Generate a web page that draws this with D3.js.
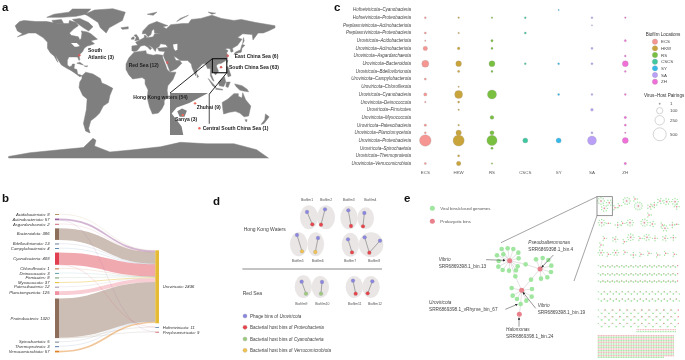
<!DOCTYPE html>
<html>
<head>
<meta charset="utf-8">
<script src="https://cdn.jsdelivr.net/npm/d3@7"></script>
<style>
  html, body { margin: 0; padding: 0; background: #fff; }
  svg { display: block; filter: blur(0.3px); }
  text { font-family: "Liberation Sans", Arial, sans-serif; }
</style>
</head>
<body>
<svg width="685" height="360"></svg>
<script>
// ---- panel a: land as rough lon/lat outlines
const landAreas = [
  // north america
  [[-168,67],[-162,71],[-156,72],[-140,71],[-125,71],[-110,69],[-95,69],[-94,72],[-85,70],[-82,67],[-88,64],[-94,60],[-92,57],[-82,55],[-80,51],[-78,53],[-77,60],[-78,62],[-70,61],[-65,59],[-60,55],[-56,52],[-65,50],[-60,46],[-66,44],[-70,43],[-74,40],[-76,36],[-81,31],[-80,26],[-81,25],[-83,29],[-90,29],[-95,29],[-97,25],[-97,20],[-94,18],[-91,19],[-90,21],[-87,21],[-88,16],[-84,15],[-83,10],[-79,9],[-77,8],[-80,7],[-85,10],[-92,14],[-97,16],[-105,20],[-109,25],[-113,31],[-110,23],[-115,30],[-120,34],[-124,40],[-124,48],[-130,54],[-140,60],[-150,60],[-155,58],[-165,55],[-158,59],[-165,62]],
  [[-90,73],[-80,74],[-68,70],[-62,66],[-68,62],[-75,65],[-85,70]],
  [[-125,75],[-115,78],[-95,80],[-90,83],[-65,83],[-72,78],[-85,76],[-105,75]],
  [[-118,72],[-105,73],[-102,69],[-115,69]],
  // greenland, iceland
  [[-73,78],[-60,82],[-35,83.5],[-18,80],[-22,72],[-40,65],[-44,60],[-52,65],[-55,70],[-68,76]],
  [[-24,65],[-14,66],[-14,64],[-22,63.5]],
  // south america
  [[-77,8],[-72,12],[-62,10],[-52,5],[-50,0],[-44,-2],[-35,-6],[-39,-14],[-41,-22],[-48,-26],[-53,-34],[-58,-38],[-65,-42],[-68,-50],[-66,-55],[-72,-53],[-75,-45],[-71,-30],[-70,-18],[-76,-14],[-81,-5],[-80,1],[-77,5]],
  // africa, madagascar
  [[-17,15],[-17,21],[-13,28],[-6,35],[10,37],[11,33],[20,31],[25,32],[33,31],[33,28],[37,20],[39,15],[43,12],[51,12],[47,4],[40,-3],[39,-8],[40,-15],[35,-20],[35,-24],[32,-29],[27,-34],[19,-35],[15,-27],[12,-17],[13,-8],[9,-1],[9,4],[5,6],[-4,5],[-8,4.5],[-13,9]],
  [[44,-16],[49,-12],[50,-16],[47,-25],[44,-25]],
  // eurasia
  [[-9,37],[-9,43],[-1,44],[-4,48],[2,51],[8,54],[8,57],[11,56],[10,54],[14,54],[20,55],[22,59],[30,60],[22,60],[21,64],[24,66],[18,62],[17,58],[13,55],[10,59],[5,59],[6,62],[14,68],[25,71],[40,67],[33,66],[38,64],[44,68],[60,69],[68,69],[72,73],[85,74],[100,77],[113,74],[130,72],[140,73],[160,70],[186,67],[186,65],[177,62],[170,60],[163,60],[156,51],[155,58],[142,59],[135,54],[141,52],[135,44],[128,40],[129,36],[126,35],[125,39],[122,40],[118,39],[122,37],[120,34],[122,30],[119,25],[113,22],[108,21],[106,19],[109,13],[105,9],[101,13],[99,10],[103,2],[101,3],[98,8],[98,16],[94,16],[91,22],[87,21],[80,15],[78,8],[73,17],[72,21],[67,25],[57,25],[52,28],[48,30],[51,25],[56,25],[59,22],[52,16],[43,12.5],[39,21],[35,28],[34,31],[36,36],[28,36.5],[26,40],[40,41.5],[37,45],[30,46],[28,42],[24,40],[23,36],[19,41],[13,45],[18,40],[16,38],[12,42],[8,44],[3,43],[0,39],[-2,37],[-6,36]],
  // islands
  [[-5,50],[1,51],[0,54],[-3,58],[-6,57],[-3,54]],
  [[-10,52],[-6,52],[-6,55],[-9,54]],
  [[130,32],[135,34],[140,35],[141,40],[145,44],[141,45],[139,38],[132,35]],
  [[142,46],[143,54],[144,50]],
  [[120,22],[122,25],[121,25]],
  [[120,18],[122,18],[126,8],[122,7],[120,14]],
  [[95,5],[104,-3],[106,-6],[101,-3]],
  [[105,-7],[115,-8],[114,-7],[106,-6]],
  [[109,1],[117,7],[119,1],[116,-4],[110,-3]],
  [[120,1],[125,1],[122,-5],[119,-4]],
  [[131,-1],[141,-3],[148,-7],[150,-10],[143,-9],[138,-8],[133,-4]],
  [[114,-22],[122,-18],[130,-12],[136,-12],[136,-15],[141,-17],[142,-11],[146,-19],[153,-26],[150,-37],[144,-38],[138,-34],[132,-32],[124,-33],[116,-35],[115,-30]],
  [[145,-41],[148,-41],[147,-43.5]],
  [[173,-35],[178,-38],[175,-41],[171,-45],[167,-46],[172,-41]],
  [[80,9.5],[82,7],[80,6]],
  [[-84,22],[-75,20],[-80,23]],
  [[-74,19],[-69,19],[-71,18]],
  [[12,78],[25,80],[20,77]],
  [[52,71],[68,77],[57,74]],
  [[95,80],[105,79],[100,78]],
  // antarctica
  [[-177,-90],[-177,-88],[-148,-83],[-107,-79],[-75,-76],[-62,-63],[-58,-66],[-60,-74],[-39,-82],[-7,-79],[30,-75],[57,-69],[93,-71],[130,-71],[161,-79],[177,-90]]
];
const lakeAreas = [
  [[47,45],[53,46],[53,38],[50,37],[48,40]],
  [[-92,47],[-84,47],[-80,43],[-84,42],[-87,42]]
];
// inset of the south china coast
const insetLand = [
  [[105,25],[120.8,25],[113,21.4],[107.8,19.8],[105.7,17.7],[109.8,13],[110.5,10],[105,10]],
  [[108,18.5],[110,19.5],[112,18.7],[111,16.5],[109,16.5]]
];
const siteNames = ["South Atlantic", "Red Sea", "East China Sea", "South China Sea"];
const siteLons = [-80.6, 39.3, 121.5, 112.5];
const siteLats = [31, 22.7, 30.3, 17.6];
const insetLons = [115.4, 110.3, 117.2];
const insetLats = [21.3, 17.1, 12.4];
const boxLons = [100.7, 120.3];
const boxLats = [27, 11.4];

// ---- panel b
const phylaNames = ["Acidobacteriota","Actinobacteriota","Asgardarchaeota","Bacteroidota","Bdellovibrionota","Campylobacterota","Cyanobacteria","Chloroflexota","Deinococcota","Firmicutes","Myxococcota","Patescibacteria","Planctomycetota","Proteobacteria","Spirochaetota","Thermoproteota","Verrucomicrobiota"];
const phylaCounts = [8,57,2,386,13,4,408,1,3,8,37,12,125,1320,5,3,57];
const phylaColors = ["#b8905a","#9c5c9c","#d06a7a","#8d6e5a","#6a7f9f","#5f88b0","#e04050","#c0703a","#5f9fa8","#6a9a6a","#e8c040","#9f8f9f","#f090a0","#8d6e5a","#707f8f","#5878a8","#e08020"];
const viralNames = ["Uroviricota","Hofneiviricota","Preplasmiviricota"];
const viralCounts = [2436,11,9];
const viralColors = ["#e5bb35","#7a95b5","#d07070"];
// flows that do not go to Uroviricota
const otherFlowFrom = ["Cyanobacteria","Proteobacteria","Actinobacteriota","Proteobacteria"];
const otherFlowTo = ["Hofneiviricota","Hofneiviricota","Preplasmiviricota","Preplasmiviricota"];
const otherFlowValue = [1,10,2,7];

// ---- panel c
const pairLabels = ["Hofneiviricota","Hofneiviricota","Preplasmiviricota","Preplasmiviricota"].concat(d3.range(17).map(() => "Uroviricota"));
const pairHosts = ["Cyanobacteria","Proteobacteria","Actinobacteriota","Proteobacteria","Acidobacteriota","Actinobacteriota","Asgardarchaeota","Bacteroidota","Bdellovibrionota","Campylobacterota","Chloroflexota","Cyanobacteria","Deinococcota","Firmicutes","Myxococcota","Patescibacteria","Planctomycetota","Proteobacteria","Spirochaetota","Thermoproteota","Verrucomicrobiota"];
const locations = ["ECS","HKW","RS","CSCS","SY","SA","ZH"];
const locationColors = ["#f59692","#c9a43a","#79c040","#3fc7a0","#35b9ea","#b9a0f6","#f06fd8"];
const ecsPairs  = [0,4,0,6,1,45,0,130,0,6,0,20,2,0,0,8,5,390,0,0,6];
const hkwPairs  = [0,2,0,2,0,10,0,80,7,0,1,170,5,2,0,2,70,360,0,6,45];
const rsPairs   = [0,2,0,0,8,6,0,90,5,0,0,230,0,0,30,0,40,300,8,0,2];
const cscsPairs = [0,4,0,6,0,0,0,4,0,0,0,0,0,0,0,0,0,60,0,0,0];
const syPairs   = [1,0,0,0,0,0,0,4,0,0,0,5,0,0,0,0,0,60,0,0,0];
const saPairs   = [0,4,1,0,0,5,0,6,0,0,0,4,0,12,0,0,6,220,0,0,0];
const zhPairs   = [0,2,0,0,6,0,4,90,4,0,0,4,0,0,8,6,2,90,0,0,8];
const pairSizes = [1,100,250,500];

// ---- panel d, positions in the panel's own layout units
const biofilmNames = ["Biofilm1","Biofilm2","Biofilm3","Biofilm4","Biofilm5","Biofilm6","Biofilm7","Biofilm8","Biofilm9","Biofilm10","Biofilm11","Biofilm12"];
const biofilmLabelX = [231,288,356,421,203,263,360,432,214,277,374,435];
const biofilmLabelY = [75,75,75,75,258,258,258,258,388,388,388,388];
const blobX = [237,288,357,407,206,257,361,423,220,271,373,423];
const blobY = [127,127,128,130,208,208,209,209,335,336,336,336];
const blobRx = [27,27,26,25,26,25,26,37,26,26,26,26];
const blobRy = [36,36,35,33,36,36,36,37,34,33,33,33];
const hostX = [247,273,363,399,216,256,366,418,228,273,377,413];
const hostY = [148,149,153,154,229,231,232,233,356,356,356,355];
const hostKind = [1,1,1,1,3,3,1,1,2,2,1,1];
const phageX = [231,285,355,403,201,264,354,404,215,276,369,427];
const phageY = [111,103,106,114,180,189,193,187,320,321,317,319];
const extraPhage = [450,197,7]; // biofilm 8 has a second phage
const binLegend = ["Phage bins of ","Bacterial host bins of ","Bacterial host bins of ","Bacterial host bins of "];
const binLegendTaxon = ["Uroviricota","Proteobacteria","Cyanobacteria","Verrucomicrobiota"];
const binColors = ["#8a85e0","#e8434a","#9cc97e","#f2c14e"];

// ---- panel e
const hubX = [329,420,365,358];
const hubY = [257,282,346,418];
const bridgeX = [377,346,393,362];
const bridgeY = [268,304,314,387];
const bridgeFrom = [0,0,1,2];
const bridgeTo = [1,2,2,3];
const petalHub = [0,0,0,0,0,0,0,0,0,0,0,0,0,1,1,1,1,1,1,1,2,2,2,2,2,2];
const petalX = [305,323,340,355,356,353,348,327,308,295,296,291,310,408,428,445,454,453,442,423,335,338,351,379,395,396];
const petalY = [222,220,222,233,250,274,286,287,285,275,258,241,238,253,249,255,272,291,307,311,339,362,372,377,365,342];
const binNotes = [
  ["Vibrio","SRR6869398.1_bin.13",116,253],
  ["Pseudoalteromonas","SRR6869398.1_bin.4",385,203],
  ["Uroviricota","SRR6869398.1_vRhyme_bin_67",87,383],
  ["Vibrio","SRR6869398.1_bin.19",413,392],
  ["Halomonas","SRR6869398.1_bin.24",318,463]
];
const pointerFromX = [258,460,316,407,357];
const pointerFromY = [254,240,403,400,455];
const pointerToX = [315,425,352,369,357];
const pointerToY = [256,277,388,352,428];

// small networks on the right of e: hub x, hub y, leaves
const thumbX = [78,103,88,155,190,120,133,180,225,238,222,255,275,300,305,80,100,128,143,165,208,232,270,262,292,305,88,78,120,167,148,195,216,240,270,295,78,122,100,150,175,198,222,248,272,298];
const thumbY = [78,83,100,78,93,98,92,72,95,90,120,78,80,80,95,143,145,150,145,143,143,147,160,150,150,148,190,210,193,187,200,190,187,190,190,188,233,233,238,232,240,238,235,240,235,238];
const thumbLeaves = [8,6,7,9,11,3,3,3,5,4,3,5,7,8,4,8,2,4,3,8,9,5,6,3,4,2,3,3,5,8,3,3,7,4,5,4,6,6,3,3,4,3,3,3,3,3];
const chainRowY = [272,296,318,350,372,405,425,445];
const chainRowStep = [7,7,7,9,9,11,11,11];
const chainRowRise = [4,4,3,7,6,10,10,10];
const gridRowEnd = [300,300,300,300,300,300,300,300,300,300,300,300,300,270];

const svg = d3.select("svg");
const line = d3.line().x(d => d[0]).y(d => d[1]);

function panelLetter(t, x, y) {
  svg.append("text").attr("x", x).attr("y", y)
    .attr("font-size", 11.5).attr("font-weight", "bold").attr("fill", "#111").text(t);
}
panelLetter("a", 2, 10.5);
panelLetter("b", 2, 202);
panelLetter("c", 334, 11);
panelLetter("d", 213, 205);
panelLetter("e", 404, 202);

// ---------- a
const lonScale = d3.scaleLinear().domain([-180, 180]).range([6.4, 270.6]);
const latScale = d3.scaleLinear()
  .domain([90, 83, 60, 30, 0, -35, -55, -70, -90])
  .range([5, 9, 33, 56, 83, 114, 133, 143, 158]);
const geoLine = d3.line().x(d => lonScale(d[0])).y(d => latScale(d[1])).curve(d3.curveLinearClosed);
const a = svg.append("g");
a.selectAll("path.land").data(landAreas).enter().append("path")
  .attr("class", "land").attr("d", geoLine).attr("fill", "#7f7f7f")
  .attr("stroke", "#7f7f7f").attr("stroke-width", 0.5).attr("stroke-linejoin", "round");
a.selectAll("path.lake").data(lakeAreas).enter().append("path")
  .attr("class", "lake").attr("d", geoLine).attr("fill", "#fff");

const insetLon = d3.scaleLinear().domain([105, 122]).range([170, 211]);
const insetLat = d3.scaleLinear().domain([25, 10]).range([93, 135]);
const insetLine = d3.line().x(d => insetLon(d[0])).y(d => insetLat(d[1])).curve(d3.curveLinearClosed);
// white sea behind inset so the continent does not show through
a.append("rect").attr("x", insetLon(105)).attr("y", insetLat(25))
  .attr("width", insetLon(122) - insetLon(105)).attr("height", insetLat(10) - insetLat(25)).attr("fill", "#fff");
a.selectAll("path.inset").data(insetLand).enter().append("path")
  .attr("class", "inset").attr("d", insetLine).attr("fill", "#7f7f7f");

a.append("rect")
  .attr("x", lonScale(boxLons[0])).attr("y", latScale(boxLats[0]))
  .attr("width", lonScale(boxLons[1]) - lonScale(boxLons[0]))
  .attr("height", latScale(boxLats[1]) - latScale(boxLats[0]))
  .attr("fill", "none").attr("stroke", "#111").attr("stroke-width", 1.1);
a.append("path").attr("stroke", "#111").attr("stroke-width", 0.9)
  .attr("d", line([[lonScale(boxLons[0]), latScale(boxLats[0])], [insetLon(105), insetLat(25)]]));
a.append("path").attr("stroke", "#111").attr("stroke-width", 0.9)
  .attr("d", line([[lonScale(boxLons[1]), latScale(boxLats[1])], [insetLon(121.3), insetLat(24.6)]]));
a.append("path").attr("stroke", "#777").attr("stroke-width", 1.3)
  .attr("d", line([[insetLon(121.3), insetLat(24.6)], [insetLon(121.3), insetLat(14)]]));

a.selectAll("circle.site").data(siteNames).enter().append("circle")
  .attr("class", "site")
  .attr("cx", (d, i) => lonScale(siteLons[i])).attr("cy", (d, i) => latScale(siteLats[i]))
  .attr("r", 1.2).attr("fill", "#dc5a5a");
a.selectAll("circle.isite").data(insetLons).enter().append("circle")
  .attr("class", "isite")
  .attr("cx", (d, i) => insetLon(d)).attr("cy", (d, i) => insetLat(insetLats[i]))
  .attr("r", 1.2).attr("fill", "#f06a5a");

[["South", 88, 52], ["Atlantic (3)", 88, 58.7], ["Red Sea (12)", 128.7, 66.7], ["East China Sea (6)", 234.7, 58],
 ["South China Sea (63)", 229, 68.7], ["Hong Kong waters (54)", 133.3, 99.2], ["Zhuhai (9)", 196.7, 109],
 ["Sanya (3)", 175, 120.7], ["Central South China Sea (1)", 202.7, 130.4]].forEach(d => {
  a.append("text").attr("x", d[1]).attr("y", d[2]).attr("font-size", 5).attr("font-weight", "bold")
    .attr("fill", "#222").text(d[0]);
});

// ---------- b
const flowScale = d3.scaleLinear().domain([0, 2456]).range([0, 73.6]);
const b = svg.append("g");
const leftNodes = {};
let y0 = 214;
phylaNames.forEach((name, i) => {
  const h = flowScale(phylaCounts[i]);
  leftNodes[name] = { y: y0, h: Math.max(h, 1), used: 0, color: phylaColors[i], count: phylaCounts[i] };
  y0 += Math.max(h, 1) + 3.55;
});
const rightNodes = {};
y0 = 250.3;
viralNames.forEach((name, i) => {
  const h = flowScale(viralCounts[i]);
  rightNodes[name] = { y: y0, h: Math.max(h, 1), used: 0, color: viralColors[i], count: viralCounts[i] };
  y0 += Math.max(h, 1) + 3.7;
});

const flows = phylaNames.map((name, i) => {
  let rest = phylaCounts[i];
  otherFlowFrom.forEach((from, k) => { if (from == name) rest -= otherFlowValue[k]; });
  return { from: name, to: "Uroviricota", value: rest };
}).concat(otherFlowFrom.map((from, k) => ({ from: from, to: otherFlowTo[k], value: otherFlowValue[k] })));

const ribbon = d3.linkHorizontal().x(d => d[0]).y(d => d[1]);
flows.forEach(f => {
  const s = leftNodes[f.from], t = rightNodes[f.to];
  const w = flowScale(f.value);
  const sy = s.y + s.used + w / 2, ty = t.y + t.used + w / 2;
  s.used += w; t.used += w;
  b.append("path")
    .attr("d", ribbon({ source: [59, sy], target: [155.3, ty] }))
    .attr("fill", "none").attr("stroke", s.color)
    .attr("stroke-opacity", w < 0.6 ? 0.35 : 0.45)
    .attr("stroke-width", Math.max(w, 0.4));
});
phylaNames.forEach(name => {
  const n = leftNodes[name];
  b.append("rect").attr("x", 55).attr("y", n.y).attr("width", 4).attr("height", n.h).attr("fill", n.color);
  b.append("text").attr("x", 49.5).attr("y", n.y + n.h / 2 + 1.3).attr("text-anchor", "end")
    .attr("font-size", 4.2).attr("font-style", "italic").attr("fill", "#333").text(name + ": " + n.count);
});
viralNames.forEach(name => {
  const n = rightNodes[name];
  b.append("rect").attr("x", 155.3).attr("y", n.y).attr("width", 3.7).attr("height", n.h).attr("fill", n.color);
  b.append("text").attr("x", 162.7).attr("y", n.y + n.h / 2 + 1.3)
    .attr("font-size", 4.2).attr("font-style", "italic").attr("fill", "#333").text(name + ": " + n.count);
});

// ---------- c
const xLoc = d3.scalePoint().domain(locations).range([425.3, 625.3]);
const yPair = d3.scaleLinear().domain([0, 20]).range([10, 163.5]);
const rPair = d3.scaleSqrt().domain([1, 500]).range([0.7, 6.5]);
const c = svg.append("g");
pairHosts.forEach((host, i) => {
  c.append("text").attr("x", 411).attr("y", yPair(i) + 1.4).attr("text-anchor", "end")
    .attr("font-size", 4.45).attr("font-style", "italic").attr("fill", "#444")
    .text(pairLabels[i] + "\u2013" + host);
});
[ecsPairs, hkwPairs, rsPairs, cscsPairs, syPairs, saPairs, zhPairs].forEach((vals, k) => {
  c.selectAll(null).data(vals.map((v, i) => [v, i]).filter(d => d[0] > 0)).enter().append("circle")
    .attr("cx", xLoc(locations[k])).attr("cy", d => yPair(d[1])).attr("r", d => rPair(d[0]))
    .attr("fill", locationColors[k]).attr("stroke", "#999").attr("stroke-width", 0.25);
  c.append("text").attr("x", xLoc(locations[k])).attr("y", 173.5).attr("text-anchor", "middle")
    .attr("font-size", 4.4).attr("fill", "#555").text(locations[k]);
});
c.append("text").attr("x", 645.7).attr("y", 35.5).attr("font-size", 4.6).attr("fill", "#333").text("Biofilm Locations");
const yKey = d3.scalePoint().domain(locations).range([41.7, 81.7]);
locations.forEach((loc, i) => {
  c.append("circle").attr("cx", 655).attr("cy", yKey(loc)).attr("r", 2.7)
    .attr("fill", locationColors[i]).attr("stroke", "#999").attr("stroke-width", 0.25);
  c.append("text").attr("x", 661).attr("y", yKey(loc) + 1.5).attr("font-size", 4.4).attr("fill", "#444").text(loc);
});
c.append("text").attr("x", 644).attr("y", 97.2).attr("font-size", 4.6).attr("fill", "#333").text("Virus\u2013Host Pairings");
const sizeKeyY = [103.7, 110.7, 120.3, 134.3];
pairSizes.forEach((s, i) => {
  c.append("circle").attr("cx", 659.7).attr("cy", sizeKeyY[i]).attr("r", rPair(s))
    .attr("fill", s == 1 ? "#888" : "#fff").attr("stroke", "#aaa").attr("stroke-width", 0.5);
  c.append("text").attr("x", 670).attr("y", sizeKeyY[i] + 1.5).attr("font-size", 4.4).attr("fill", "#444").text(s);
});

// ---------- d
const dX = d3.scaleLinear().domain([0, 510]).range([230, 400]);
const dY = d3.scaleLinear().domain([0, 555]).range([175, 360]);
const dPanel = svg.append("g");
biofilmNames.forEach((name, i) => {
  dPanel.append("ellipse").attr("cx", dX(blobX[i])).attr("cy", dY(blobY[i]))
    .attr("rx", dX(blobRx[i]) - dX(0)).attr("ry", dY(blobRy[i]) - dY(0)).attr("fill", "#e9e6e5");
});
function binEdge(x1, y1, x2, y2) {
  dPanel.append("path").attr("stroke", "#777").attr("stroke-width", 0.6)
    .attr("d", line([[dX(x1), dY(y1)], [dX(x2), dY(y2)]]));
}
function binDot(x, y, kind) {
  dPanel.append("circle").attr("cx", dX(x)).attr("cy", dY(y)).attr("r", 1.9)
    .attr("fill", binColors[kind]).attr("stroke", "#999").attr("stroke-width", 0.25);
}
biofilmNames.forEach((name, i) => {
  binEdge(phageX[i], phageY[i], hostX[i], hostY[i]);
  if (extraPhage[2] == i) binEdge(extraPhage[0], extraPhage[1], hostX[i], hostY[i]);
});
biofilmNames.forEach((name, i) => {
  binDot(phageX[i], phageY[i], 0);
  binDot(hostX[i], hostY[i], hostKind[i]);
  if (extraPhage[2] == i) binDot(extraPhage[0], extraPhage[1], 0);
  dPanel.append("text").attr("x", dX(biofilmLabelX[i])).attr("y", dY(biofilmLabelY[i]) + 1)
    .attr("text-anchor", "middle").attr("font-size", 3.4).attr("fill", "#555").text(name);
});
dPanel.append("text").attr("x", 243.7).attr("y", 230.7).attr("font-size", 5).attr("fill", "#444").text("Hong Kong Waters");
dPanel.append("text").attr("x", 242.7).attr("y", 294.7).attr("font-size", 5).attr("fill", "#444").text("Red Sea");
dPanel.append("path").attr("stroke", "#c4c4c4").attr("stroke-width", 2)
  .attr("d", line([[dX(37), dY(282)], [dX(456), dY(282)]]));
const binKeyY = [423, 457, 492, 526];
binLegend.forEach((t, i) => {
  dPanel.append("circle").attr("cx", dX(45)).attr("cy", dY(binKeyY[i])).attr("r", 2.1)
    .attr("fill", binColors[i]).attr("stroke", "#999").attr("stroke-width", 0.25);
  const label = dPanel.append("text").attr("x", dX(60)).attr("y", dY(binKeyY[i]) + 1.6)
    .attr("font-size", 4.6).attr("fill", "#444");
  label.append("tspan").text(t);
  label.append("tspan").attr("font-style", "italic").text(binLegendTaxon[i]);
});

// ---------- e
const eX = d3.scaleLinear().domain([0, 540]).range([400, 580]);
const eY = d3.scaleLinear().domain([0, 555]).range([175, 360]);
const tX = d3.scaleLinear().domain([0, 330]).range([575, 685]);
const tY = eY;
const e = svg.append("g");
const viralGreen = "#a0e6a0", binRed = "#e8818c";

e.append("circle").attr("cx", eX(97)).attr("cy", eY(100)).attr("r", 2.5).attr("fill", viralGreen);
e.append("text").attr("x", eX(121)).attr("y", eY(100) + 1.5).attr("font-size", 4.3).attr("fill", "#555").text("Viral bins/closed genomes");
e.append("circle").attr("cx", eX(97)).attr("cy", eY(139)).attr("r", 2.5).attr("fill", binRed);
e.append("text").attr("x", eX(121)).attr("y", eY(139) + 1.5).attr("font-size", 4.3).attr("fill", "#555").text("Prokaryotic bins");

function netEdge(x1, y1, x2, y2) {
  e.append("path").attr("stroke", "#c4c4c4").attr("stroke-width", 0.5)
    .attr("d", line([[eX(x1), eY(y1)], [eX(x2), eY(y2)]]));
}
petalHub.forEach((h, i) => netEdge(hubX[h], hubY[h], petalX[i], petalY[i]));
bridgeFrom.forEach((h, i) => {
  netEdge(hubX[h], hubY[h], bridgeX[i], bridgeY[i]);
  netEdge(hubX[bridgeTo[i]], hubY[bridgeTo[i]], bridgeX[i], bridgeY[i]);
});
e.selectAll("circle.petal").data(petalX.concat(bridgeX)).enter().append("circle")
  .attr("class", "petal").attr("cx", d => eX(d))
  .attr("cy", (d, i) => eY(petalY.concat(bridgeY)[i])).attr("r", 2.3).attr("fill", viralGreen);
e.selectAll("circle.hub").data(hubX).enter().append("circle")
  .attr("class", "hub").attr("cx", d => eX(d)).attr("cy", (d, i) => eY(hubY[i]))
  .attr("r", 2.5).attr("fill", binRed);

binNotes.forEach(n => {
  e.append("text").attr("x", eX(n[2])).attr("y", eY(n[3]) + 1.5).attr("font-size", 4.7)
    .attr("font-style", "italic").attr("fill", "#444").text(n[0]);
  e.append("text").attr("x", eX(n[2])).attr("y", eY(n[3] + 20) + 1.5).attr("font-size", 4.7)
    .attr("fill", "#444").text(n[1]);
});
svg.append("defs").append("marker").attr("id", "tip").attr("viewBox", "0 0 6 6").attr("refX", 5).attr("refY", 3)
  .attr("markerWidth", 5).attr("markerHeight", 5).attr("orient", "auto")
  .append("path").attr("d", "M0,0L6,3L0,6z").attr("fill", "#222");
pointerFromX.forEach((x, i) => {
  e.append("path").attr("stroke", "#333").attr("stroke-width", 0.5).attr("marker-end", "url(#tip)")
    .attr("d", line([[eX(x), eY(pointerFromY[i])], [eX(pointerToX[i]), eY(pointerToY[i])]]));
});

// zoom box and guide lines
const thumb = e.append("g");
thumb.append("path").attr("stroke", "#666").attr("stroke-width", 0.6)
  .attr("d", line([[tX(66), tY(65)], [eX(303), eY(203)]]));
thumb.append("path").attr("stroke", "#666").attr("stroke-width", 0.6)
  .attr("d", line([[tX(66), tY(122)], [eX(522), eY(318)]]));

thumbX.forEach((x, i) => {
  const n = thumbLeaves[i], rad = 5 + n * 0.6;
  d3.range(n).forEach(k => {
    const ang = 2 * Math.PI * k / n;
    const px = tX(x + rad * Math.cos(ang)), py = tY(thumbY[i] + rad * Math.sin(ang));
    thumb.append("path").attr("stroke", "#cfcfcf").attr("stroke-width", 0.25)
      .attr("d", line([[tX(x), tY(thumbY[i])], [px, py]]));
    thumb.append("circle").attr("cx", px).attr("cy", py).attr("r", 0.7).attr("fill", viralGreen);
  });
  thumb.append("circle").attr("cx", tX(x)).attr("cy", tY(thumbY[i])).attr("r", 0.75).attr("fill", binRed);
});
chainRowY.forEach((y, r) => {
  d3.range(70, 306, chainRowStep[r]).forEach((x, k) => {
    const odd = k % 2;
    const rise = chainRowRise[r];
    const x1 = x, y1 = y + (odd ? rise : 0), x2 = x + chainRowStep[r] * (r > 4 ? 0.8 : 1), y2 = y + (odd ? 0 : rise);
    thumb.append("path").attr("stroke", "#d0d0d0").attr("stroke-width", 0.25)
      .attr("d", line([[tX(x1), tY(y1)], [tX(x2), tY(y2)]]));
    thumb.append("circle").attr("cx", tX(x1)).attr("cy", tY(y1)).attr("r", 0.65).attr("fill", viralGreen);
    thumb.append("circle").attr("cx", tX(x2)).attr("cy", tY(y2)).attr("r", 0.65).attr("fill", odd ? binRed : viralGreen);
  });
});
gridRowEnd.forEach((end, r) => {
  d3.range(70, end, 5).forEach(x => {
    thumb.append("circle").attr("cx", tX(x)).attr("cy", tY(482 + r * 5)).attr("r", 0.75)
      .attr("fill", r % 2 ? viralGreen : "#f0b0b8");
  });
});
d3.range(186, 303, 5).forEach(x => {
  thumb.append("circle").attr("cx", tX(x)).attr("cy", tY(464)).attr("r", 0.65).attr("fill", "#f0b0b8");
  thumb.append("circle").attr("cx", tX(x)).attr("cy", tY(470)).attr("r", 0.65).attr("fill", viralGreen);
});
thumb.append("rect").attr("x", tX(66)).attr("y", tY(65)).attr("width", tX(112) - tX(66)).attr("height", tY(122) - tY(65))
  .attr("fill", "none").attr("stroke", "#777").attr("stroke-width", 0.8);
</script>
</body>
</html>
